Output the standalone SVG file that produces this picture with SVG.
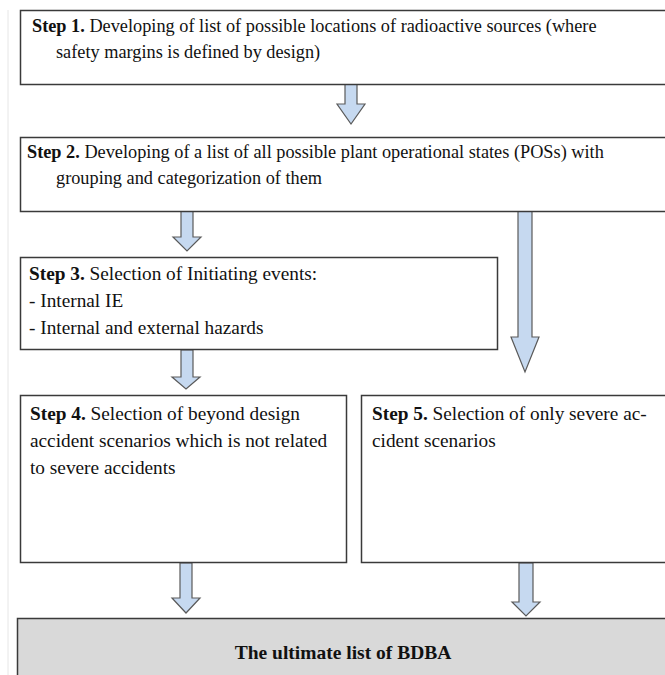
<svg xmlns="http://www.w3.org/2000/svg" width="665" height="675" viewBox="0 0 665 675">
<style>
.box{fill:#ffffff;stroke:#3a3a3a;stroke-width:1.5}
.final{fill:#d9d9d9;stroke:#3a3a3a;stroke-width:1.5}
.arrow{fill:#c6d9f0;stroke:#5a5a5a;stroke-width:1.2;stroke-linejoin:miter}
text{font-family:'Liberation Serif','DejaVu Serif',serif;fill:#111}
.t{font-size:18.3px}
.u{font-size:19.3px}
.b{font-weight:bold}
.ft{font-size:19.5px;font-weight:bold}
</style>
<rect x="0" y="0" width="665" height="675" fill="#ffffff"/>
<line x1="8" y1="10" x2="8" y2="675" stroke="#e6e6e6" stroke-width="1"/>
<g id="connectors">
<path class="arrow" d="M345,84 H357 V104 H365 L351,124 L337,104 H345 Z"/>
<path class="arrow" d="M181,211 H193 V237 H201 L187,251 L173,237 H181 Z"/>
<path class="arrow" d="M518,207 H532 V337 H539 L525,372 L511,337 H518 Z"/>
<path class="arrow" d="M181,350 H193 V377 H200 L186,389 L172,377 H181 Z"/>
<path class="arrow" d="M180,563 H192 V598 H200 L186,613 L172,598 H180 Z"/>
<path class="arrow" d="M519,563 H533 V602 H540 L526,616 L512,602 H519 Z"/>
</g>
<g id="step1">
<rect class="box" x="20.5" y="10.5" width="660" height="74"/>
<text class="t" x="32" y="32"><tspan class="b">Step 1.</tspan> Developing of list of possible locations of radioactive sources (where</text>
<text class="t" x="56" y="58">safety margins is defined by design)</text>
</g>
<g id="step2">
<rect class="box" x="20.5" y="137.5" width="660" height="74"/>
<text class="t" x="27" y="158"><tspan class="b">Step 2.</tspan> Developing of a list of all possible plant operational states (POSs) with</text>
<text class="t" x="56" y="184">grouping and categorization of them</text>
</g>
<g id="step3">
<rect class="box" x="20.5" y="257.5" width="477" height="92"/>
<text class="u" x="29" y="280"><tspan class="b">Step 3.</tspan> Selection of Initiating events:</text>
<text class="u" x="29" y="307">- Internal IE</text>
<text class="u" x="29" y="334">- Internal and external hazards</text>
</g>
<g id="step4">
<rect class="box" x="20.5" y="395.5" width="326" height="167"/>
<text class="u" x="30" y="420"><tspan class="b">Step 4.</tspan> Selection of beyond design</text>
<text class="u" x="30" y="447">accident scenarios which is not related</text>
<text class="u" x="30" y="474">to severe accidents</text>
</g>
<g id="step5">
<rect class="box" x="361.5" y="395.5" width="320" height="167"/>
<text class="u" x="372" y="420"><tspan class="b">Step 5.</tspan> Selection of only severe ac-</text>
<text class="u" x="372" y="447">cident scenarios</text>
</g>
<g id="final">
<rect class="final" x="17.5" y="618.5" width="665" height="70"/>
<text class="ft" x="343" y="659" text-anchor="middle">The ultimate list of BDBA</text>
</g>
</svg>
